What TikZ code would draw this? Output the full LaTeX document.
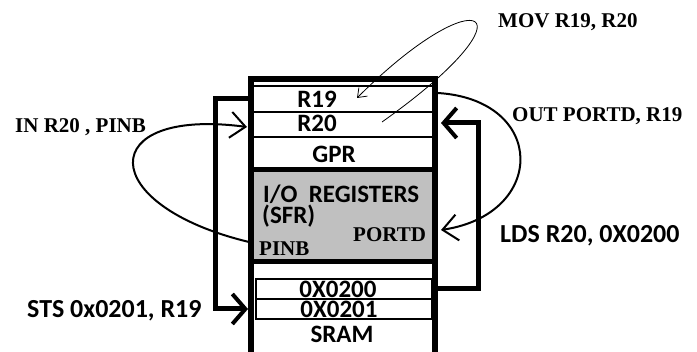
\documentclass[tikz,border=0pt]{standalone}
\usepackage{fontspec}
\setmainfont{Liberation Serif}
\newfontfamily\calibfont{Carlito}
\usepackage{xcolor}
\definecolor{sfrgray}{HTML}{C0C0C0}
\usetikzlibrary{arrows.meta,positioning,calc}
\tikzset{
  memwall/.style={line width=6pt},
  memrule/.style={line width=1.2pt},
  memsep/.style={line width=5pt},
  memtext/.style={font=\calibfont\bfseries\fontsize{25}{27}\selectfont,inner sep=0pt,text height=15pt,text depth=0pt},
  instrsans/.style={font=\calibfont\bfseries\fontsize{26}{28}\selectfont,inner sep=0pt},
  instrserif/.style={font=\bfseries\fontsize{21}{23}\selectfont,inner sep=0pt},
  busarrow/.style={line width=5pt,-{Straight Barb[length=13pt,width=30pt,line width=4pt]}},
  flowarrow/.style={line width=2pt,-{Straight Barb[length=15pt,width=26pt,line width=2pt]}},
  movarrow/.style={line width=0.8pt,-{Straight Barb[length=8pt,width=12pt,line width=0.8pt]}}
}

\begin{document}
\begin{tikzpicture}[x=1pt,y=-1pt]
\useasboundingbox (0,0) rectangle (697,352);
% memory block
\fill[sfrgray] (254,172) rectangle (432,260);
\draw[memwall] (251,352) -- (251,79) -- (435,79) -- (435,352);
\foreach \yy in {86,112,137} \draw[memrule] (254,\yy) -- (432,\yy);
\draw[memsep] (254,170) -- (432,170);
\draw[memsep] (254,262) -- (432,262);
\draw[memrule] (256,279) rectangle (432,319);
\draw[memrule] (256,299) -- (432,299);
% contents
\node[memtext,anchor=base] (r19) at (317,108) {R19};
\node[memtext,anchor=base] (r20) at (317,132) {R20};
\node[memtext,anchor=base] (gpr) at (334,163) {GPR};
\node[memtext,anchor=base west] (ioreg) at (263,203) {I/O\ \ REGISTERS};
\node[memtext,anchor=base west] (sfr) at (262,224) {(SFR)};
\node[instrserif,anchor=base west] (portd) at (353,242) {PORTD};
\node[instrserif,anchor=base west] (pinb) at (259,256) {PINB};
\node[memtext,anchor=base] (x200) at (338,298) {0X0200};
\node[memtext,anchor=base] (x201) at (339,318) {0X0201};
\node[memtext,anchor=base] (sram) at (342,343) {SRAM};
% instructions
\node[instrserif,anchor=base west] (mov) at (498,28) {MOV R19, R20};
\node[instrserif,anchor=base west] (in) at (15,133) {IN R20 , PINB};
\node[instrserif,anchor=base west] (out) at (512,122) {OUT PORTD, R19};
\node[instrsans,anchor=base west] (lds) at (500,243) {LDS R20, 0X0200};
\node[instrsans,anchor=base west] (sts) at (27,318) {STS 0x0201, R19};
% ends on the block wall
\coordinate (r19W) at (251,99);
\coordinate (r19E) at (438,93);
\coordinate (r20W) at (247,127);
\coordinate (r20E) at (441,123);
\coordinate (pinbW) at (249,242);
\coordinate (portdE) at (441,230);
\coordinate (x200E) at (435,289);
\coordinate (x201W) at (248,309);
\coordinate (movS) at (382,122);
\coordinate (movE) at (357,98);
% data paths
\draw[busarrow] (r19W) -- ++(-36,0) |- (x201W);
\draw[busarrow] (x200E) -- ++(43,0) |- (r20E);
\draw[flowarrow] (pinbW) .. controls (95,205) and (95,107) .. (r20W);
\draw[flowarrow] (r19E) .. controls (547,100) and (547,214) .. (portdE);
\draw[movarrow] (movS) .. controls (540,10) and (480,-25) .. (movE);
\end{tikzpicture}
\end{document}
